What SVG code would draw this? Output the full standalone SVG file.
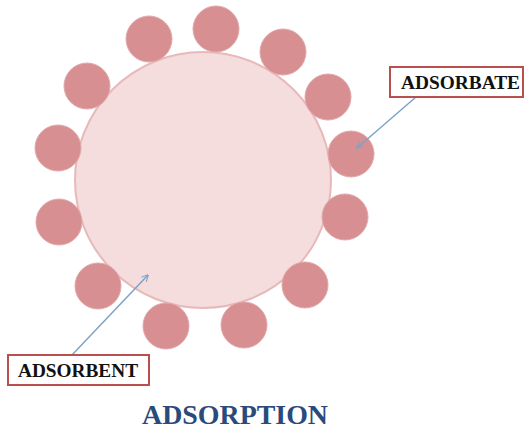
<svg xmlns="http://www.w3.org/2000/svg" width="527" height="435" viewBox="0 0 527 435">
<defs>
<style>
.bg{fill:#ffffff}
.big{fill:#f5dcdd;stroke:#e7b9ba;stroke-width:2}
.mol{fill:#d88f91;stroke:#e0a9aa;stroke-width:1}
.box{fill:#ffffff;stroke:#b9504f;stroke-width:2}
.lbl{font-family:"Liberation Serif",serif;font-weight:bold;font-size:19px;fill:#111111}
.title{font-family:"Liberation Serif",serif;font-weight:bold;font-size:27px;fill:#2a4a7c}
.arrow{stroke:#7ca3c8;stroke-width:1.5;fill:none}
</style>
<marker id="ah" viewBox="0 0 10 10" refX="9" refY="5" markerWidth="7" markerHeight="7" orient="auto" markerUnits="userSpaceOnUse">
<path d="M0,0 L10,5 L0,10" fill="none" stroke="#7ca3c8" stroke-width="1.5"/>
</marker>
</defs>
<rect class="bg" x="0" y="0" width="527" height="435"/>
<g id="adsorbent">
<circle class="big" cx="203" cy="180" r="128"/>
</g>
<g id="adsorbate-molecules">
<circle class="mol" cx="149" cy="39" r="23"/>
<circle class="mol" cx="216" cy="29" r="23"/>
<circle class="mol" cx="283" cy="52" r="23"/>
<circle class="mol" cx="328" cy="97" r="23"/>
<circle class="mol" cx="351" cy="154" r="23"/>
<circle class="mol" cx="345" cy="217" r="23"/>
<circle class="mol" cx="305" cy="285" r="23"/>
<circle class="mol" cx="244" cy="325" r="23"/>
<circle class="mol" cx="166" cy="326" r="23"/>
<circle class="mol" cx="98" cy="286" r="23"/>
<circle class="mol" cx="59" cy="222" r="23"/>
<circle class="mol" cx="58" cy="148" r="23"/>
<circle class="mol" cx="87" cy="86" r="23"/>
</g>
<g id="connectors">
<line class="arrow" x1="416" y1="97" x2="357" y2="148" marker-end="url(#ah)"/>
<line class="arrow" x1="72" y1="355" x2="148" y2="275" marker-end="url(#ah)"/>
</g>
<g id="label-adsorbate">
<rect class="box" x="390" y="67" width="133" height="30"/>
<text class="lbl" x="401" y="89" textLength="119" lengthAdjust="spacingAndGlyphs">ADSORBATE</text>
</g>
<g id="label-adsorbent">
<rect class="box" x="8" y="355" width="141" height="30"/>
<text class="lbl" x="18" y="377" textLength="120" lengthAdjust="spacingAndGlyphs">ADSORBENT</text>
</g>
<g id="title">
<text class="title" x="142" y="424" textLength="186" lengthAdjust="spacingAndGlyphs">ADSORPTION</text>
</g>
</svg>
